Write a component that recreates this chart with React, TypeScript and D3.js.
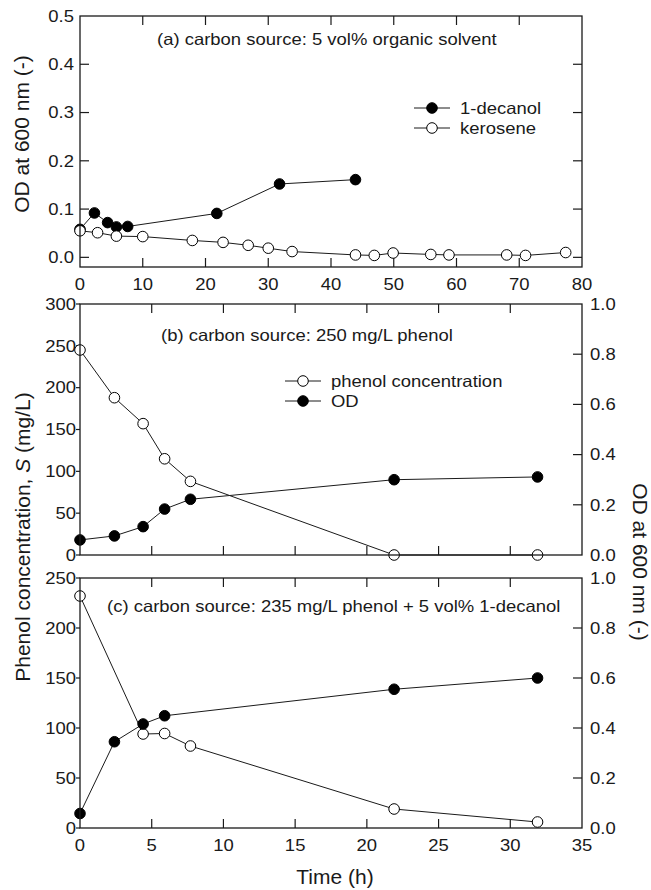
import React, { useEffect, useRef } from "react";
import * as d3 from "d3";

// (a) 5 vol% organic solvent
const timeDecanol = [0, 2.3, 4.4, 5.8, 7.6, 21.8, 31.8, 43.9];
const odDecanol = [0.058, 0.092, 0.072, 0.063, 0.064, 0.091, 0.152, 0.161];
const timeKerosene = [0, 2.8, 5.8, 10, 17.9, 22.8, 26.8, 30, 33.8, 43.9, 46.9, 49.9, 55.9, 58.8, 68, 71, 77.4];
const odKerosene = [0.055, 0.051, 0.044, 0.043, 0.035, 0.031, 0.025, 0.019, 0.012, 0.005, 0.004, 0.009, 0.006, 0.005, 0.005, 0.004, 0.01];

// (b) 250 mg/L phenol
const timeB = [0, 2.4, 4.4, 5.9, 7.7, 21.9, 31.9];
const phenolB = [245, 188, 157, 115, 88, 0, 0];
const odB = [0.06, 0.076, 0.113, 0.183, 0.222, 0.3, 0.311];

// (c) 235 mg/L phenol + 5 vol% 1-decanol
const timeCPhenol = [0, 4.4, 5.9, 7.7, 21.9, 31.9];
const phenolC = [232, 94, 94.5, 82, 19, 6];
const timeCOd = [0, 2.4, 4.4, 5.9, 21.9, 31.9];
const odC = [0.058, 0.345, 0.416, 0.449, 0.555, 0.6];

// ticks
const ticksAX = [0, 10, 20, 30, 40, 50, 60, 70, 80];
const ticksAY = [0, 0.1, 0.2, 0.3, 0.4, 0.5];
const ticksTime = [0, 5, 10, 15, 20, 25, 30, 35];
const ticksPhenolB = [0, 50, 100, 150, 200, 250, 300];
const ticksPhenolC = [0, 50, 100, 150, 200, 250];
const ticksOD = [0, 0.2, 0.4, 0.6, 0.8, 1.0];

const W = 651, H = 890;
const FONT = "'Liberation Sans', Arial, sans-serif";
const SX = 1.12; // glyphs in the source are a bit wide
const INK = "#1a1a1a";

const zip = (xs: number[], ys: number[]) => xs.map((x, i) => [x, ys[i]] as [number, number]);

const App = () => {
  const ref = useRef<SVGSVGElement>(null);

  useEffect(() => {
    const svg = d3.select(ref.current);
    svg.selectAll("*").remove();
    svg.append("rect").attr("width", W).attr("height", H).attr("fill", "#fff");

    const L = 80, R = 582;

    const txt = (x: number, y: number, s: string, anchor = "start", dy = "0.35em", size = 16.5) =>
      svg.append("text")
        .attr("transform", `translate(${x},${y}) scale(${SX},1)`)
        .attr("text-anchor", anchor)
        .attr("dy", dy)
        .attr("font-family", FONT)
        .attr("font-size", size)
        .attr("fill", INK)
        .text(s);

    const frame = (top: number, bottom: number) =>
      svg.append("rect")
        .attr("x", L).attr("y", top)
        .attr("width", R - L).attr("height", bottom - top)
        .attr("fill", "none").attr("stroke", INK).attr("stroke-width", 1.3);

    const tick = (x1: number, y1: number, x2: number, y2: number) =>
      svg.append("line")
        .attr("x1", x1).attr("y1", y1).attr("x2", x2).attr("y2", y2)
        .attr("stroke", INK).attr("stroke-width", 1.2);

    const series = (pts: [number, number][], x: any, y: any, filled: boolean) => {
      const line = d3.line().x(d => x(d[0])).y(d => y(d[1]));
      svg.append("path").datum(pts)
        .attr("fill", "none").attr("stroke", INK).attr("stroke-width", 1)
        .attr("d", line as any);
      svg.append("g").selectAll("circle").data(pts).join("circle")
        .attr("cx", d => x(d[0])).attr("cy", d => y(d[1])).attr("r", 5.3)
        .attr("fill", filled ? "#000" : "#fff")
        .attr("stroke", "#000").attr("stroke-width", 1);
    };

    const legend = (x: number, y: number, label: string, filled: boolean) => {
      svg.append("line").attr("x1", x - 18).attr("x2", x + 18).attr("y1", y).attr("y2", y)
        .attr("stroke", INK).attr("stroke-width", 1);
      svg.append("circle").attr("cx", x).attr("cy", y).attr("r", 5.3)
        .attr("fill", filled ? "#000" : "#fff").attr("stroke", "#000");
      txt(x + 28, y, label);
    };

    const TK = 9;

    // ---------- panel (a)
    const aTop = 16, aBot = 267;
    const xA = d3.scaleLinear().domain([0, 80]).range([L, R]);
    const yA = d3.scaleLinear().domain([-0.02, 0.5]).range([aBot, aTop]);

    ticksAX.forEach(v => {
      if (v > 0 && v < 80) {
        tick(xA(v), aBot, xA(v), aBot - TK);
        tick(xA(v), aTop, xA(v), aTop + TK);
      }
      txt(xA(v), aBot + 23, String(v), "middle", "0");
    });
    ticksAY.forEach(v => {
      if (v < 0.5) {
        tick(L, yA(v), L + TK, yA(v));
        tick(R, yA(v), R - TK, yA(v));
      }
      txt(L - 6, yA(v), d3.format(".1f")(v), "end");
    });

    series(zip(timeDecanol, odDecanol), xA, yA, true);
    series(zip(timeKerosene, odKerosene), xA, yA, false);
    frame(aTop, aBot);

    txt(157, 45, "(a) carbon source: 5 vol% organic solvent", "start", "0");
    legend(432, 108, "1-decanol", true);
    legend(432, 128, "kerosene", false);

    svg.append("text")
      .attr("transform", `translate(29,134) rotate(-90)`)
      .attr("text-anchor", "middle")
      .attr("font-family", FONT).attr("font-size", 21).attr("fill", INK)
      .text("OD at 600 nm (-)");

    // ---------- panels (b) and (c)
    const xT = d3.scaleLinear().domain([0, 35]).range([L, R]);

    const drawPhenolPanel = (top: number, bottom: number, yMax: number, yTicks: number[], showX: boolean) => {
      const yS = d3.scaleLinear().domain([0, yMax]).range([bottom, top]);
      const yO = d3.scaleLinear().domain([0, 1]).range([bottom, top]);
      ticksTime.forEach(v => {
        if (v > 0 && v < 35) {
          tick(xT(v), bottom, xT(v), bottom - TK);
          tick(xT(v), top, xT(v), top + TK);
        }
        if (showX) txt(xT(v), bottom + 23, String(v), "middle", "0");
      });
      yTicks.forEach(v => {
        tick(L - 4, yS(v), L, yS(v));
        txt(L - 4, yS(v), String(v), "end");
      });
      ticksOD.forEach(v => {
        if (v > 0 && v < 1) tick(R, yO(v), R - TK, yO(v));
        txt(R + 8, yO(v), d3.format(".1f")(v), "start");
      });
      return { yS, yO };
    };

    // (b)
    const bTop = 304, bBot = 555;
    const b = drawPhenolPanel(bTop, bBot, 300, ticksPhenolB, false);
    series(zip(timeB, phenolB), xT, b.yS, false);
    series(zip(timeB, odB), xT, b.yO, true);
    frame(bTop, bBot);
    txt(161, 341, "(b) carbon source: 250 mg/L phenol", "start", "0");
    legend(303, 381, "phenol concentration", false);
    legend(303, 401, "OD", true);

    // (c)
    const cTop = 578, cBot = 828;
    const c = drawPhenolPanel(cTop, cBot, 250, ticksPhenolC, true);
    series(zip(timeCPhenol, phenolC), xT, c.yS, false);
    series(zip(timeCOd, odC), xT, c.yO, true);
    frame(cTop, cBot);
    txt(107, 612, "(c) carbon source: 235 mg/L phenol + 5 vol% 1-decanol", "start", "0");

    // shared axis titles
    const yl = svg.append("text")
      .attr("transform", `translate(30,537) rotate(-90)`)
      .attr("text-anchor", "middle")
      .attr("font-family", FONT).attr("font-size", 21).attr("fill", INK);
    yl.append("tspan").text("Phenol concentration, ");
    yl.append("tspan").attr("font-style", "italic").text("S");
    yl.append("tspan").text(" (mg/L)");

    svg.append("text")
      .attr("transform", `translate(633,562) rotate(90)`)
      .attr("text-anchor", "middle")
      .attr("font-family", FONT).attr("font-size", 21).attr("fill", INK)
      .text("OD at 600 nm (-)");

    svg.append("text")
      .attr("x", (L + R) / 2 + 4).attr("y", 884)
      .attr("text-anchor", "middle")
      .attr("font-family", FONT).attr("font-size", 21).attr("fill", INK)
      .text("Time (h)");
  }, []);

  return (
    <svg
      ref={ref}
      width={W}
      height={H}
      style={{ position: "absolute", left: 0, top: 0 }}
    />
  );
};

export default App;
